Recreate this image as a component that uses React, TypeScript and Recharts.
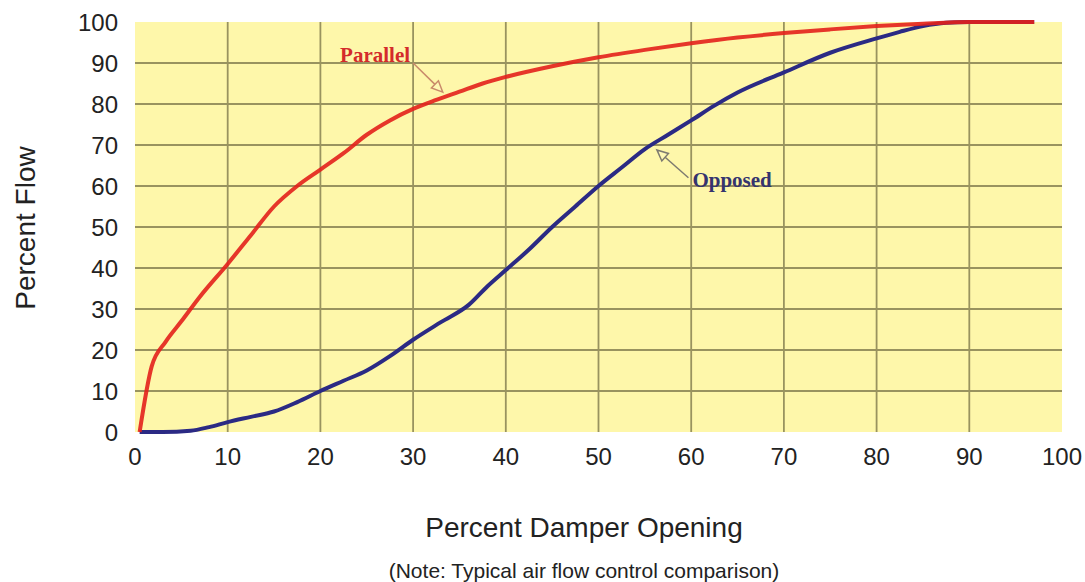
import {
  CartesianGrid,
  Label,
  Line,
  LineChart,
  ReferenceLine,
  XAxis,
  YAxis,
} from "recharts";

// percent damper opening vs percent flow
const parallelPoints = [
  { opening: 0.5, flow: 0 },
  { opening: 1.8, flow: 16 },
  { opening: 3.3, flow: 22 },
  { opening: 5, flow: 27 },
  { opening: 7, flow: 33 },
  { opening: 10, flow: 41 },
  { opening: 12.5, flow: 48 },
  { opening: 15, flow: 55 },
  { opening: 17.5, flow: 60 },
  { opening: 20, flow: 64 },
  { opening: 22.5, flow: 68 },
  { opening: 25, flow: 72.5 },
  { opening: 27.5, flow: 76 },
  { opening: 30, flow: 78.8 },
  { opening: 32.5, flow: 81 },
  { opening: 35, flow: 83 },
  { opening: 37.5, flow: 85 },
  { opening: 40, flow: 86.6 },
  { opening: 45, flow: 89.2 },
  { opening: 50, flow: 91.4 },
  { opening: 55, flow: 93.2 },
  { opening: 60, flow: 94.8 },
  { opening: 65, flow: 96.2 },
  { opening: 70, flow: 97.3 },
  { opening: 75, flow: 98.2 },
  { opening: 80, flow: 99 },
  { opening: 85, flow: 99.6 },
  { opening: 90, flow: 100 },
  { opening: 97, flow: 100 },
];

const opposedPoints = [
  { opening: 0.5, flow: 0 },
  { opening: 3, flow: 0 },
  { opening: 6, flow: 0.3 },
  { opening: 8, flow: 1.2 },
  { opening: 10, flow: 2.4 },
  { opening: 12.5, flow: 3.7 },
  { opening: 15, flow: 5 },
  { opening: 17.5, flow: 7.3 },
  { opening: 20, flow: 10 },
  { opening: 22.5, flow: 12.5 },
  { opening: 25, flow: 15 },
  { opening: 27.5, flow: 18.5 },
  { opening: 30, flow: 22.5 },
  { opening: 33, flow: 26.8 },
  { opening: 36, flow: 31 },
  { opening: 38, flow: 35.5 },
  { opening: 40, flow: 39.5 },
  { opening: 42.5, flow: 44.5 },
  { opening: 45, flow: 50 },
  { opening: 47.5, flow: 55 },
  { opening: 50, flow: 60 },
  { opening: 52.5, flow: 64.5 },
  { opening: 55, flow: 69 },
  { opening: 57.5, flow: 72.5 },
  { opening: 60, flow: 76 },
  { opening: 62.5, flow: 79.6 },
  { opening: 65, flow: 82.8 },
  { opening: 70, flow: 87.7 },
  { opening: 75, flow: 92.5 },
  { opening: 80, flow: 96 },
  { opening: 82.5, flow: 97.6 },
  { opening: 85, flow: 99 },
  { opening: 87.5, flow: 99.8 },
  { opening: 90, flow: 100 },
  { opening: 97, flow: 100 },
];

const ticks = [0, 10, 20, 30, 40, 50, 60, 70, 80, 90, 100];
const gridValues = [10, 20, 30, 40, 50, 60, 70, 80, 90];

// callout arrows: from label to curve
const annotations = [
  {
    text: "Parallel",
    from: { opening: 30, flow: 90 },
    to: { opening: 33.2, flow: 82.9 },
    color: "#d42b2b",
    arrow: "#c98a6a",
    side: "left",
  },
  {
    text: "Opposed",
    from: { opening: 59.7, flow: 62 },
    to: { opening: 56.3, flow: 68.8 },
    color: "#35346e",
    arrow: "#7d7a70",
    side: "right",
  },
];

const sans = "'Liberation Sans', Arial, sans-serif";

const arrowShape =
  (a: (typeof annotations)[number]) =>
  (props: any) => {
    const { x1, y1, x2, y2 } = props;
    const ang = Math.atan2(y2 - y1, x2 - x1);
    const len = 11;
    const w = 5;
    const bx = x2 - len * Math.cos(ang);
    const by = y2 - len * Math.sin(ang);
    const px = -Math.sin(ang) * w;
    const py = Math.cos(ang) * w;
    return (
      <g>
        <line x1={x1} y1={y1} x2={bx} y2={by} stroke={a.arrow} strokeWidth={1.5} />
        <polygon
          points={`${x2},${y2} ${bx + px},${by + py} ${bx - px},${by - py}`}
          fill="#fef8b4"
          stroke={a.arrow}
          strokeWidth={1.5}
        />
        <text
          x={a.side === "left" ? x1 - 3 : x1 + 4}
          y={a.side === "left" ? y1 - 1 : y1 + 9}
          textAnchor={a.side === "left" ? "end" : "start"}
          fill={a.color}
          fontFamily="'Liberation Serif', 'Times New Roman', serif"
          fontWeight="bold"
          fontSize={21}
        >
          {a.text}
        </text>
      </g>
    );
  };

const App = () => {
  return (
    <div style={{ position: "absolute", left: 0, top: 0, background: "#fff" }}>
      <LineChart
        width={1085}
        height={582}
        margin={{ top: 22, right: 23, left: 0, bottom: 0 }}
      >
        <CartesianGrid
          fill="#fef7aa"
          stroke="#99935f"
          strokeWidth={1.8}
          horizontalValues={gridValues}
          verticalValues={gridValues}
        />
        <XAxis
          type="number"
          dataKey="opening"
          domain={[0, 100]}
          ticks={ticks}
          axisLine={false}
          tickLine={false}
          tickSize={0}
          tickMargin={16}
          height={150}
          tick={{ fill: "#222", fontSize: 24, fontFamily: sans }}
        >
          <Label
            content={() => (
              <g fontFamily={sans} fill="#222" textAnchor="middle">
                <text x={584} y={537} fontSize={28}>
                  Percent Damper Opening
                </text>
                <text x={584} y={578} fontSize={21}>
                  (Note: Typical air flow control comparison)
                </text>
              </g>
            )}
          />
        </XAxis>
        <YAxis
          type="number"
          domain={[0, 100]}
          ticks={ticks}
          axisLine={false}
          tickLine={false}
          tickSize={0}
          tickMargin={17}
          width={135}
          tick={{ fill: "#222", fontSize: 24, fontFamily: sans }}
        >
          <Label
            content={() => (
              <text
                x={35}
                y={228}
                transform="rotate(-90 35 228)"
                textAnchor="middle"
                fontFamily={sans}
                fontSize={28}
                fill="#222"
              >
                Percent Flow
              </text>
            )}
          />
        </YAxis>
        <Line
          data={opposedPoints}
          dataKey="flow"
          type="monotone"
          stroke="#2b2a84"
          strokeWidth={4}
          dot={false}
          isAnimationActive={false}
        />
        <Line
          data={parallelPoints}
          dataKey="flow"
          type="monotone"
          stroke="#e3201b"
          strokeOpacity={0.9}
          strokeWidth={4}
          dot={false}
          isAnimationActive={false}
        />
        {annotations.map((a) => (
          <ReferenceLine
            key={a.text}
            segment={[
              { x: a.from.opening, y: a.from.flow },
              { x: a.to.opening, y: a.to.flow },
            ]}
            shape={arrowShape(a)}
          />
        ))}
      </LineChart>
    </div>
  );
};

export default App;
